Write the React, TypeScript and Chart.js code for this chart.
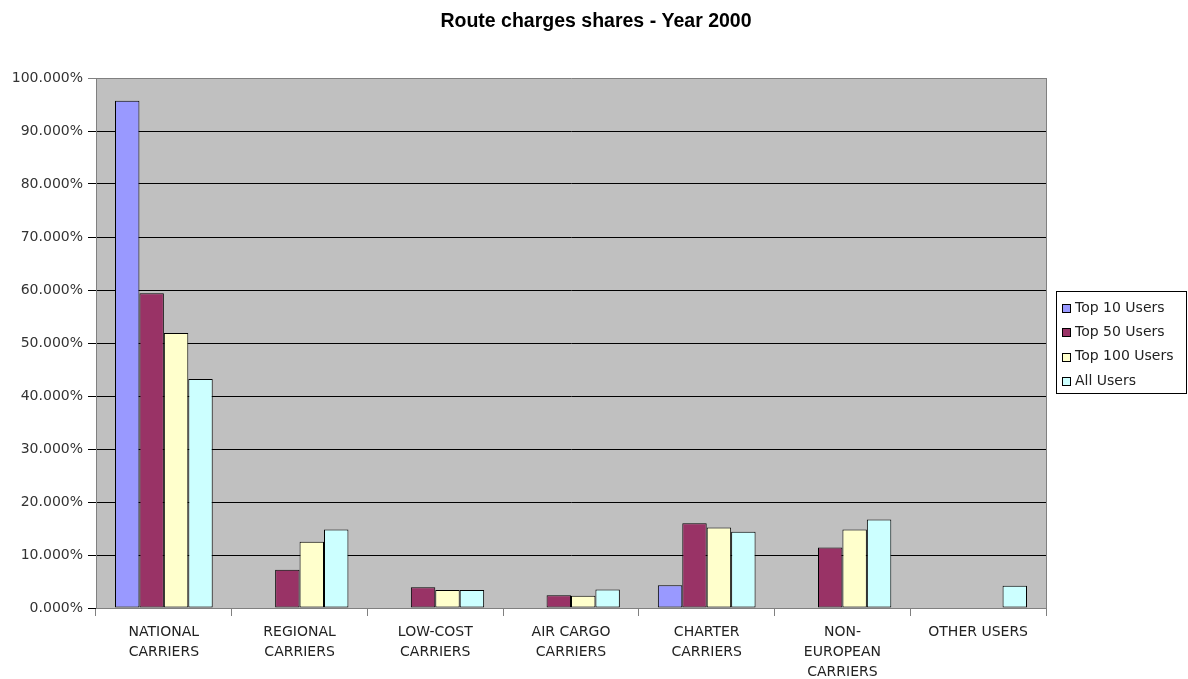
import React, { useEffect, useRef } from "react";
import { Chart, registerables } from "chart.js";

Chart.register(...registerables);

const titleText = "Route charges shares - Year 2000";
const categories: string[][] = [
  ["NATIONAL", "CARRIERS"],
  ["REGIONAL", "CARRIERS"],
  ["LOW-COST", "CARRIERS"],
  ["AIR CARGO", "CARRIERS"],
  ["CHARTER", "CARRIERS"],
  ["NON-", "EUROPEAN", "CARRIERS"],
  ["OTHER USERS"],
];
const seriesNames = ["Top 10 Users", "Top 50 Users", "Top 100 Users", "All Users"];
const seriesColors = ["#9999FF", "#993366", "#FFFFCC", "#CCFFFF"];
const top10: (number | null)[] = [95.7, null, null, null, 4.3, null, null];
const top50: (number | null)[] = [59.4, 7.2, 3.9, 2.4, 16.0, 11.4, null];
const top100: (number | null)[] = [51.9, 12.5, 3.4, 2.3, 15.2, 14.8, null];
const allUsers: (number | null)[] = [43.2, 14.8, 3.4, 3.5, 14.4, 16.7, 4.2];
const yMin = 0;
const yMax = 100;
const yStep = 10;

const FONT = "'DejaVu Sans', 'Liberation Sans', sans-serif";

const bgPlugin = {
  id: "plotBg",
  beforeDraw(chart: any) {
    const { ctx, chartArea: a } = chart;
    ctx.save();
    ctx.fillStyle = "#FFFFFF";
    ctx.fillRect(0, 0, chart.width, chart.height);
    ctx.fillStyle = "#C0C0C0";
    ctx.fillRect(a.left, a.top, a.right - a.left, a.bottom - a.top);
    ctx.restore();
  },
  afterDatasetsDraw(chart: any) {
    const { ctx, chartArea: a } = chart;
    ctx.save();
    ctx.strokeStyle = "#808080";
    ctx.lineWidth = 1;
    ctx.beginPath();
    ctx.moveTo(Math.round(a.right) + 0.5, a.top);
    ctx.lineTo(Math.round(a.right) + 0.5, a.bottom);
    ctx.stroke();
    ctx.restore();
  },
  afterDraw(chart: any) {
    const { ctx } = chart;
    ctx.save();
    // title
    ctx.fillStyle = "#000";
    ctx.font = `bold 19.5px 'Liberation Sans', Arial, sans-serif`;
    ctx.textAlign = "center";
    ctx.textBaseline = "middle";
    ctx.fillText(titleText, 596, 22);
    // legend
    const lx = 1056.5, ly = 291.5, lw = 130, lh = 102;
    ctx.fillStyle = "#FFFFFF";
    ctx.fillRect(lx, ly, lw, lh);
    ctx.strokeStyle = "#000";
    ctx.lineWidth = 1;
    ctx.strokeRect(lx, ly, lw, lh);
    ctx.font = `14px ${FONT}`;
    ctx.textAlign = "left";
    chart.data.datasets.forEach((ds: any, i: number) => {
      const cy = 308 + i * 24.3;
      ctx.fillStyle = ds.backgroundColor;
      ctx.fillRect(1062.5, Math.round(cy - 4) + 0.5, 8, 8);
      ctx.strokeStyle = "#000";
      ctx.strokeRect(1062.5, Math.round(cy - 4) + 0.5, 8, 8);
      ctx.fillStyle = "#222";
      ctx.fillText(ds.label, 1075, cy);
    });
    ctx.restore();
  },
};

export default function App() {
  const ref = useRef<HTMLCanvasElement | null>(null);
  useEffect(() => {
    if (!ref.current) return;
    const series = [top10, top50, top100, allUsers];
    const chart = new Chart(ref.current, {
      type: "bar",
      data: {
        labels: categories,
        datasets: series.map((d, i) => ({
          label: seriesNames[i],
          data: d,
          backgroundColor: seriesColors[i],
          borderColor: "#000000",
          borderWidth: 1,
          borderSkipped: false,
          categoryPercentage: 0.72,
          barPercentage: 1.0,
        })),
      },
      options: {
        responsive: false,
        animation: false,
        events: [],
        layout: { padding: { top: 78, right: 142, left: 0, bottom: 0 } },
        plugins: {
          legend: { display: false },
          title: { display: false },
          tooltip: { enabled: false },
        },
        scales: {
          x: {
            afterFit(s: any) { s.height = 71; },
            grid: {
              offset: true,
              drawOnChartArea: false,
              drawTicks: true,
              tickLength: 8,
              color: "#808080",
            },
            border: { color: "#808080" },
            ticks: {
              color: "#222",
              padding: 6,
              maxRotation: 0,
              autoSkip: false,
              font: { family: FONT, size: 14, lineHeight: 1.43 },
            },
          },
          y: {
            min: yMin,
            max: yMax,
            afterFit(s: any) { s.width = 96; },
            grid: {
              color: (c: any) => (c.tick && (c.tick.value === 0 || c.tick.value === 100) ? "#808080" : "#000000"),
              tickColor: (c: any) => (c.tick && c.tick.value === 100 ? "#808080" : "#000000"),
              lineWidth: 1,
              tickLength: 8,
            },
            border: { color: "#808080" },
            ticks: {
              stepSize: yStep,
              color: "#333",
              padding: 5,
              font: { family: FONT, size: 14 },
              callback: (v: any) => Number(v).toFixed(3) + "%",
            },
          },
        },
      },
      plugins: [bgPlugin],
    });
    return () => chart.destroy();
  }, []);
  return (
    <div style={{ position: "fixed", left: 0, top: 0, width: 1188, height: 679, background: "#fff" }}>
      <canvas ref={ref} width={1188} height={679} style={{ width: 1188, height: 679, display: "block" }} />
    </div>
  );
}
